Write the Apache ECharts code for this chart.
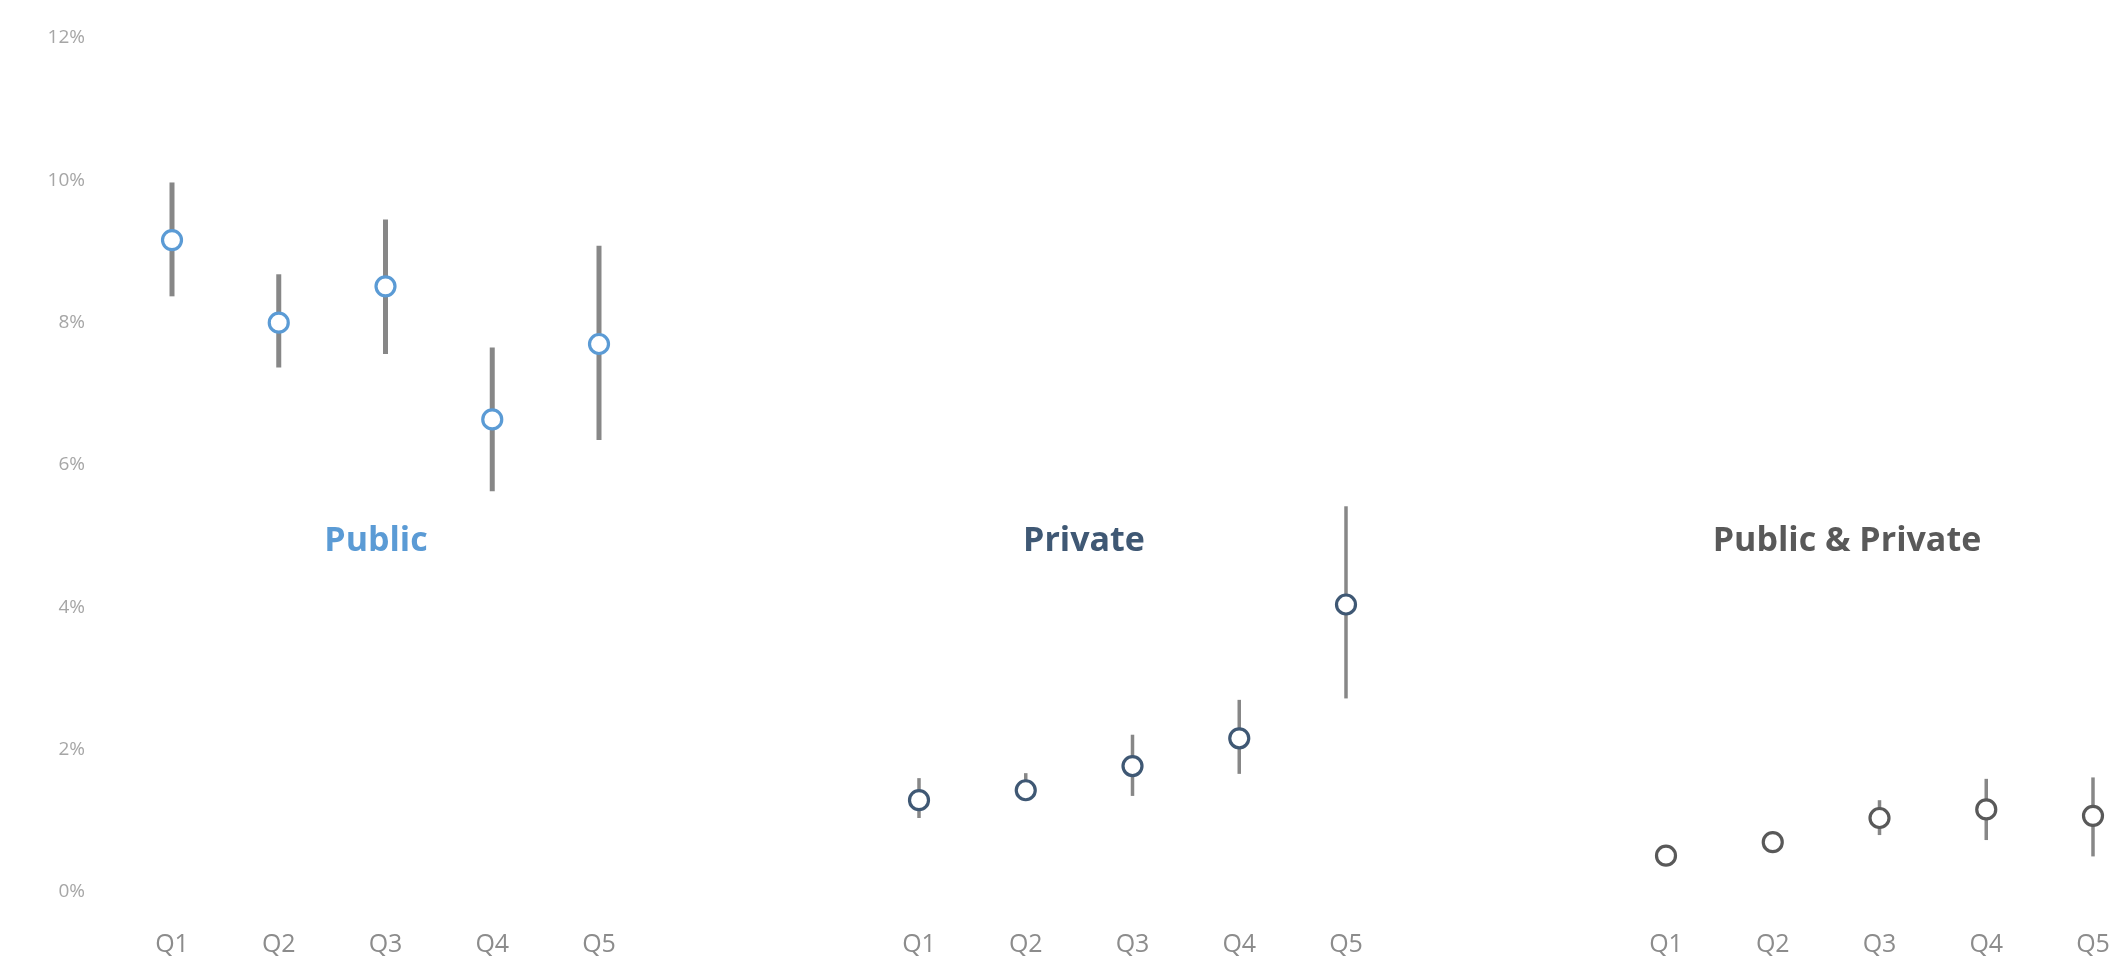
<!DOCTYPE html>
<html>
<head>
<meta charset="utf-8">
<title>Error bars by quintile</title>
<script src="https://cdn.jsdelivr.net/npm/echarts@6/dist/echarts.min.js"></script>
<style>
  html, body { margin: 0; padding: 0; background: #ffffff; }
  #chart { width: 2120px; height: 966px; }
</style>
</head>
<body>
<div id="chart"></div>
<script>
// Quintile categories shared by the three panels
const quintiles = ['Q1', 'Q2', 'Q3', 'Q4', 'Q5'];

// Percent values: point estimate with lower / upper bounds
const publicMean = [9.16, 8.00, 8.51, 6.64, 7.70];
const publicLow  = [8.37, 7.37, 7.56, 5.63, 6.35];
const publicHigh = [9.97, 8.68, 9.45, 7.65, 9.08];

const privateMean = [1.29, 1.43, 1.77, 2.16, 4.04];
const privateLow  = [1.04, 1.30, 1.35, 1.66, 2.72];
const privateHigh = [1.60, 1.67, 2.21, 2.70, 5.42];

const combinedMean = [0.51, 0.70, 1.04, 1.16, 1.07];
const combinedLow  = [0.42, 0.62, 0.80, 0.73, 0.50];
const combinedHigh = [0.60, 0.78, 1.29, 1.59, 1.61];

// Y axis ticks (percent)
const yMin = 0, yMax = 12, yStep = 2;

const panels = [
  { name: 'Public', mean: publicMean, low: publicLow, high: publicHigh,
    color: '#5b9bd5', barWidth: 5, left: 172, labelX: 376 },
  { name: 'Private', mean: privateMean, low: privateLow, high: privateHigh,
    color: '#3f5874', barWidth: 3.5, left: 919, labelX: 1084 },
  { name: 'Public & Private', mean: combinedMean, low: combinedLow, high: combinedHigh,
    color: '#595959', barWidth: 3.5, left: 1666, labelX: 1847 }
];

const FONT = '"Open Sans", Lato, "DejaVu Sans", sans-serif';
const panelWidth = 427;
const gridTop = 38, gridBottom = 74;

const grids = [], xAxes = [], yAxes = [], series = [], graphics = [];

panels.forEach((p, i) => {
  grids.push({ left: p.left, top: gridTop, bottom: gridBottom, width: panelWidth, containLabel: false });
  xAxes.push({
    type: 'category', gridIndex: i, data: quintiles, boundaryGap: false,
    axisLine: { show: false }, axisTick: { show: false }, splitLine: { show: false },
    axisLabel: { color: '#8c8c8c', fontSize: 25, fontFamily: FONT, margin: 40 }
  });
  yAxes.push({
    type: 'value', gridIndex: i, min: yMin, max: yMax, interval: yStep,
    axisLine: { show: false }, axisTick: { show: false }, splitLine: { show: false },
    axisLabel: { show: i === 0, color: '#a6a6a6', fontSize: 19, fontFamily: FONT,
                 margin: 87, formatter: '{value}%' }
  });
  // vertical error bars
  series.push({
    type: 'custom', xAxisIndex: i, yAxisIndex: i, z: 2,
    data: quintiles.map((q, k) => [k, p.low[k], p.high[k]]),
    encode: { x: 0, y: [1, 2] },
    renderItem: (params, api) => {
      const k = api.value(0);
      const a = api.coord([k, api.value(1)]);
      const b = api.coord([k, api.value(2)]);
      return {
        type: 'line',
        shape: { x1: a[0], y1: a[1], x2: b[0], y2: b[1] },
        style: { stroke: '#878787', lineWidth: p.barWidth }
      };
    }
  });
  // hollow markers for the point estimates
  series.push({
    type: 'scatter', name: p.name, xAxisIndex: i, yAxisIndex: i, z: 3,
    data: p.mean, symbol: 'circle', symbolSize: 19,
    itemStyle: { color: '#ffffff', borderColor: p.color, borderWidth: 3.2, opacity: 1 }
  });
  graphics.push({
    type: 'text', x: p.labelX, y: 541, z: 10,
    style: { text: p.name, fill: p.color, font: 'bold 34px ' + FONT,
             align: 'center', verticalAlign: 'middle',
             textAlign: 'center', textVerticalAlign: 'middle' }
  });
});

const chart = echarts.init(document.getElementById('chart'), null, { renderer: 'canvas' });
chart.setOption({
  animation: false,
  backgroundColor: '#ffffff',
  grid: grids,
  xAxis: xAxes,
  yAxis: yAxes,
  series: series,
  graphic: graphics
});
</script>
</body>
</html>
